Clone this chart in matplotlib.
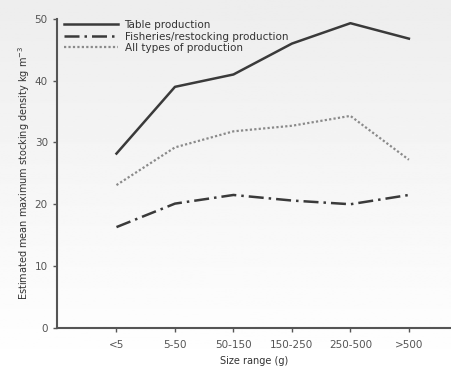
import numpy as np
import matplotlib
matplotlib.use("Agg")
import matplotlib.pyplot as plt

# size classes and estimated densities
size_ranges = ["<5", "5-50", "50-150", "150-250", "250-500", ">500"]
table_prod = [28.2, 39.0, 41.0, 46.0, 49.3, 46.8]
fisheries_prod = [16.3, 20.1, 21.5, 20.6, 20.0, 21.5]
all_prod = [23.1, 29.2, 31.8, 32.7, 34.3, 27.2]

fig = plt.figure(figsize=(4.51, 3.70), dpi=100)

# soft grey-to-white background like the scanned original
bg = fig.add_axes([0, 0, 1, 1], zorder=-1)
grad = np.linspace(0.93, 1.0, 256).reshape(-1, 1)
bg.imshow(grad, aspect="auto", cmap="gray", vmin=0, vmax=1, extent=[0, 1, 0, 1])
bg.axis("off")

ax = fig.add_axes([0.126, 0.114, 0.874, 0.835])
ax.patch.set_alpha(0)

x = np.arange(len(size_ranges))
ax.plot(x, table_prod, "-", color="#3a3a3a", lw=1.8, label="Table production")
ax.plot(x, fisheries_prod, linestyle=(0, (6, 2, 1, 2)), color="#3a3a3a", lw=1.8,
        label="Fisheries/restocking production")
ax.plot(x, all_prod, linestyle=(0, (1, 1)), color="#8a8a8a", lw=1.6,
        label="All types of production")

ax.set_xlim(-1.02, 5.72)
ax.set_ylim(0, 50)
ax.set_xticks(x)
ax.set_xticklabels(size_ranges)
ax.set_yticks([0, 10, 20, 30, 40, 50])

for s in ["top", "right"]:
    ax.spines[s].set_visible(False)
for s in ["left", "bottom"]:
    ax.spines[s].set_color("#555555")
    ax.spines[s].set_linewidth(1.5)
ax.tick_params(axis="both", labelsize=7.5, colors="#555555", length=3, width=1)
ax.tick_params(axis="x", pad=6)

ax.set_xlabel("Size range (g)", fontsize=7, color="#333333", labelpad=4)
ax.set_ylabel("Estimated mean maximum stocking density kg m$^{-3}$", fontsize=7,
              color="#333333", labelpad=2)

leg = ax.legend(loc="upper left", bbox_to_anchor=(0.0, 1.02), frameon=False,
                fontsize=7.5, handlelength=5.2, handletextpad=0.6, labelspacing=0.15,
                borderaxespad=0.3)
for t in leg.get_texts():
    t.set_color("#333333")

fig.savefig("out.png", dpi=100)
